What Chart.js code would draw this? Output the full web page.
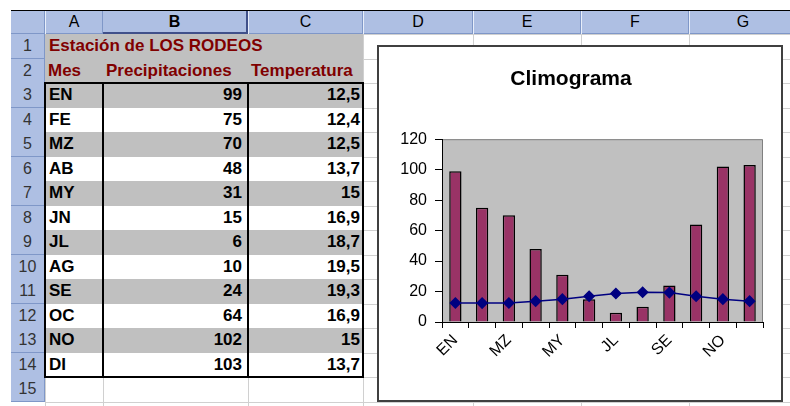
<!DOCTYPE html>
<html>
<head>
<meta charset="utf-8">
<script src="https://cdn.jsdelivr.net/npm/chart.js@4/dist/chart.umd.min.js"></script>
<style>
body { margin: 0; width: 790px; height: 406px; overflow: hidden; background: #fff; position: relative;
       font-family: Arial, "Liberation Sans", sans-serif; }
.abs { position: absolute; box-sizing: border-box; white-space: nowrap; }
</style>
</head>
<body>
<div id="sheet"></div>
<div id="chartBox" class="abs" style="left:377px;top:45px;width:406px;height:357px;border:2px solid #404040;background:#fff">
  <canvas id="myChart"></canvas>
</div>
<script>
// data from the sheet
const months = ['EN', 'FE', 'MZ', 'AB', 'MY', 'JN', 'JL', 'AG', 'SE', 'OC', 'NO', 'DI'];
const precipitaciones = [99, 75, 70, 48, 31, 15, 6, 10, 24, 64, 102, 103];
const temperatura = [12.5, 12.4, 12.5, 13.7, 15, 16.9, 18.7, 19.5, 19.3, 16.9, 15, 13.7];
const columnLetters = ['A', 'B', 'C', 'D', 'E', 'F', 'G'];
const sheetTitle = 'Estación de LOS RODEOS';
const headers = ['Mes', 'Precipitaciones', 'Temperatura'];

// sheet geometry
const colX = [45, 103, 248, 363, 473, 581, 689, 797];
const rowH = 24.5;
const rowTop = r => 34 + (r - 1) * rowH;

const sheet = document.getElementById('sheet');
function box(x, y, w, h, css, text) {
  const d = document.createElement('div');
  d.className = 'abs';
  d.style.cssText = `left:${x}px;top:${y}px;width:${w}px;height:${h}px;` + (css || '');
  if (text !== undefined) d.textContent = text;
  sheet.appendChild(d);
  return d;
}

// gridlines
for (let r = 1; r <= 16; r++) box(45, rowTop(r), 745, 1, 'background:#d0d0d0');
for (let c = 0; c < colX.length; c++) box(colX[c], 34, 1, 372, 'background:#d0d0d0');

// column headers
box(11, 10, 779, 1, 'background:#000');
box(11, 11, 779, 23, 'background:#aebfe3;border-bottom:1px solid #7f97c8');
box(11, 11, 34, 23, 'border-right:1px solid #7f97c8');
columnLetters.forEach((l, i) => {
  const sel = l === 'B';
  box(colX[i], 11, colX[i + 1] - colX[i], 23,
    'text-align:center;line-height:22px;font-size:16px;color:#000;' +
    (sel ? 'font-weight:bold;border-right:2px solid #40508a;border-bottom:2px solid #40508a;' : 'border-left:1px solid #e8eefa;border-right:1px solid #7f97c8;'),
    l);
});

// row headers
for (let r = 1; r <= 15; r++) {
  box(11, rowTop(r), 34, rowH + 0.5,
    'background:#aebfe3;border-bottom:1px solid #7f97c8;border-right:1px solid #7f97c8;text-align:center;line-height:24px;font-size:16px;color:#333',
    String(r));
}

// cells A1:C14
const cellFont = 'font-size:17px;font-weight:bold;line-height:24px;';
for (let r = 1; r <= 14; r++) {
  const gray = r <= 2 || r % 2 === 1;
  box(45, rowTop(r), colX[3] - 45, rowH + 0.5, 'background:' + (gray ? '#c0c0c0' : '#fff'));
}
box(49, rowTop(1), 300, rowH, cellFont + 'color:#800000', sheetTitle);
headers.forEach((h, i) => box(colX[i] + 3, rowTop(2), colX[i + 1] - colX[i], rowH, cellFont + 'color:#800000', h));
months.forEach((m, i) => {
  const r = i + 3;
  box(49, rowTop(r), 50, rowH, cellFont + 'color:#000', m);
  box(colX[1], rowTop(r), colX[2] - colX[1] - 6, rowH, cellFont + 'color:#000;text-align:right', String(precipitaciones[i]));
  box(colX[2], rowTop(r), colX[3] - colX[2] - 3, rowH, cellFont + 'color:#000;text-align:right', String(temperatura[i]).replace('.', ','));
});
// thick borders round A3:C14
box(44, rowTop(3) - 1, colX[3] - 44 + 1, 2, 'background:#000');
box(44, rowTop(15) - 1, colX[3] - 44 + 1, 2, 'background:#000');
[44, colX[1] - 1, colX[2] - 1, colX[3] - 1].forEach(x => box(x, rowTop(3) - 1, 2, rowTop(15) - rowTop(3) + 1, 'background:#000'));

// chart
Chart.defaults.font.family = 'Arial, "Liberation Sans", sans-serif';
Chart.defaults.color = '#000';

const plotBg = {
  id: 'plotBg',
  beforeDraw(chart) {
    const { ctx, chartArea: a } = chart;
    ctx.save();
    ctx.fillStyle = '#c0c0c0';
    ctx.fillRect(a.left, a.top, a.right - a.left, a.bottom - a.top);
    ctx.strokeStyle = '#808080';
    ctx.lineWidth = 1;
    ctx.beginPath();
    ctx.moveTo(a.left, a.top + 0.5);
    ctx.lineTo(a.right - 0.5, a.top + 0.5);
    ctx.lineTo(a.right - 0.5, a.bottom);
    ctx.stroke();
    ctx.restore();
  }
};

const ctx = document.getElementById('myChart').getContext('2d');
new Chart(ctx, {
  data: {
    labels: months,
    datasets: [
      {
        type: 'line',
        label: 'Temperatura',
        data: temperatura,
        borderColor: '#000080',
        backgroundColor: '#000080',
        borderWidth: 1.5,
        pointStyle: 'rectRot',
        pointRadius: 5,
        tension: 0,
        order: 1
      },
      {
        type: 'bar',
        label: 'Precipitaciones',
        data: precipitaciones,
        backgroundColor: '#993366',
        borderColor: '#000',
        borderWidth: 1.5,
        barPercentage: 0.46,
        categoryPercentage: 1,
        order: 2
      }
    ]
  },
  options: {
    responsive: true,
    maintainAspectRatio: false,
    animation: false,
    layout: { padding: { left: 0, right: 18, top: 0, bottom: 0 } },
    plugins: {
      legend: { display: false },
      tooltip: { enabled: false },
      title: {
        display: true,
        text: 'Climograma',
        color: '#000',
        font: { size: 21, weight: 'bold' },
        padding: { top: 20, bottom: 47 }
      }
    },
    scales: {
      x: {
        grid: { drawOnChartArea: false, tickLength: 6, color: '#000', offset: true },
        border: { color: '#000' },
        ticks: {
          autoSkip: false,
          minRotation: 45,
          maxRotation: 45,
          font: { size: 16 },
          color: '#000',
          callback: (v, i) => (i % 2 === 0 ? months[i] : '')
        },
        afterFit: s => { s.height = 78; }
      },
      y: {
        min: 0,
        max: 120,
        ticks: { stepSize: 20, font: { size: 16 }, color: '#000', padding: 8 },
        grid: { drawOnChartArea: false, tickLength: 7, color: '#000' },
        border: { color: '#000' },
        afterFit: s => { s.width = 63; }
      }
    }
  },
  plugins: [plotBg]
});
</script>
</body>
</html>
